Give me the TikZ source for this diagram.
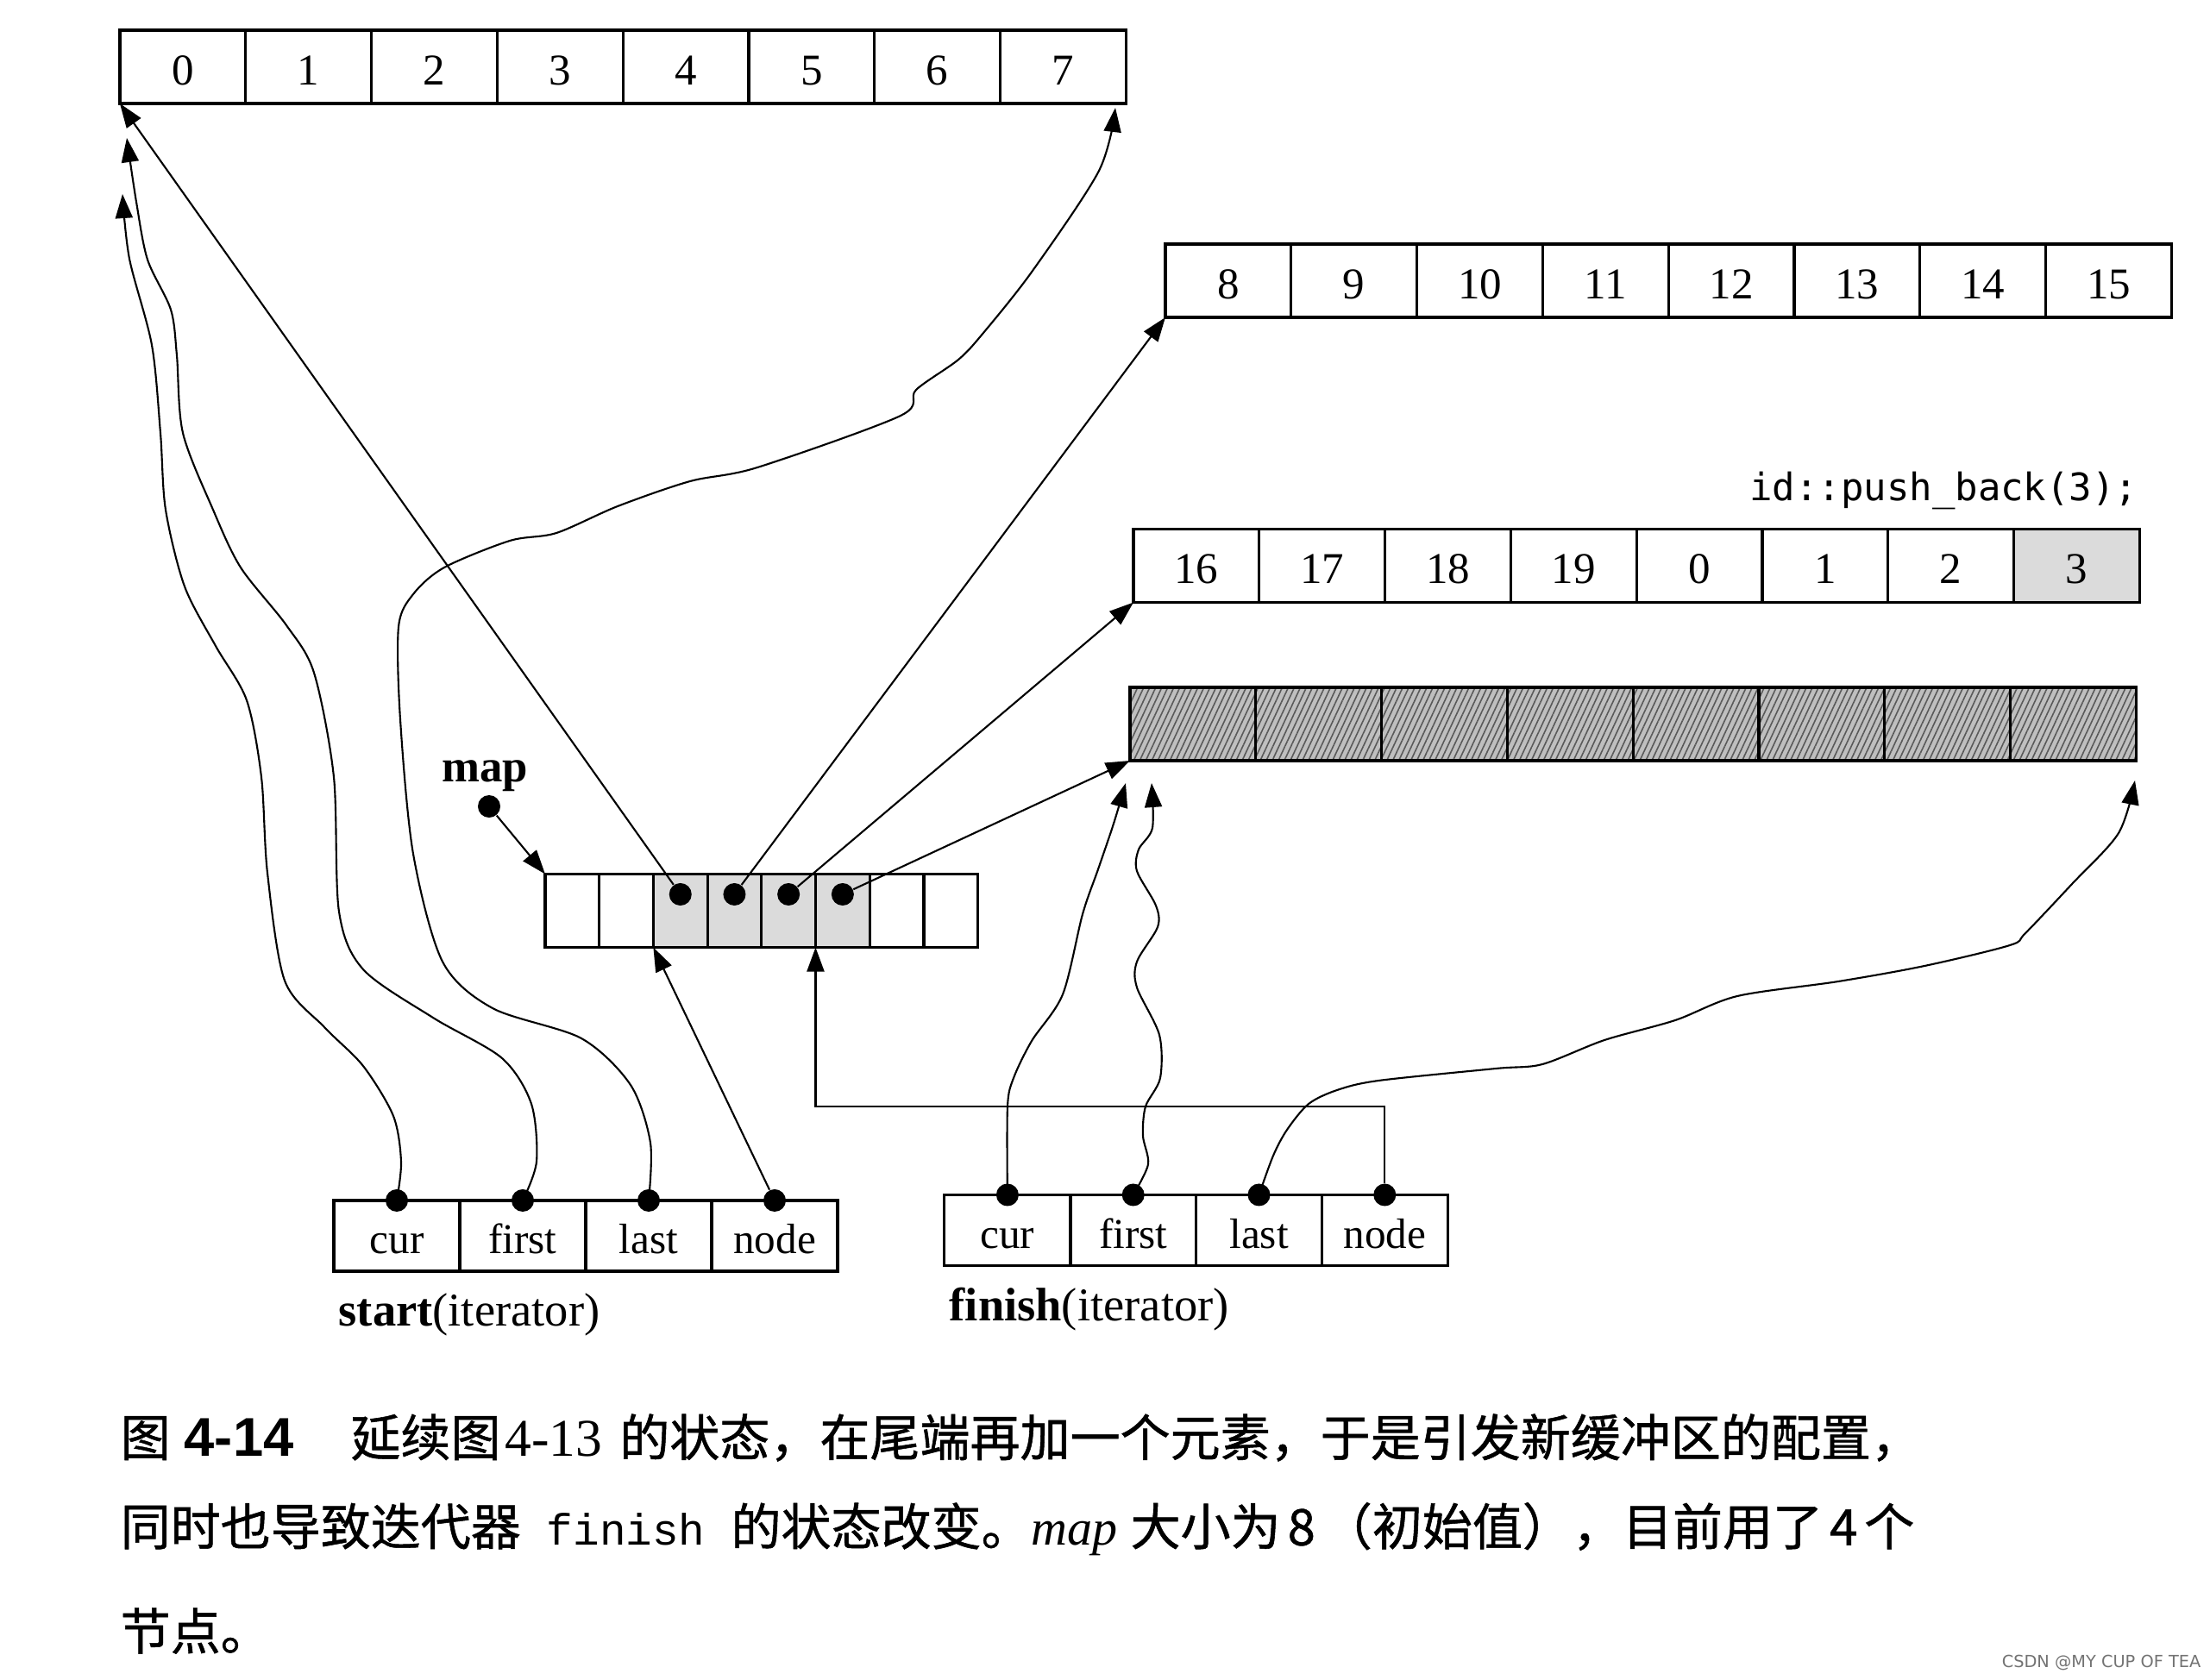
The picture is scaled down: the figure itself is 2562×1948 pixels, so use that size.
\documentclass[tikz,border=0pt]{standalone}
\usepackage{fontspec}
\setmainfont{Liberation Serif}
\newfontfamily\cjk{Noto Sans CJK SC}[FakeBold=0.9]
\newfontfamily\codefont{DejaVu Sans Mono}
\newfontfamily\typefont{Liberation Mono}
\newfontfamily\heavyfont{Liberation Sans}
\newfontfamily\markfont{DejaVu Sans}
\usetikzlibrary{arrows.meta,patterns.meta}

\tikzset{
  cell/.style={draw, line width=0.9pt, inner sep=0pt, outer sep=0pt,
    minimum width=1.458cm, minimum height=0.85cm, text height=14.8pt, text depth=3pt,
    font=\fontsize{14.5}{16}\selectfont},
  mapcell/.style={cell, minimum width=0.627cm},
  itcell/.style={cell, minimum width=1.46cm, minimum height=0.82cm, font=\fontsize{14}{16}\selectfont},
  shadecell/.style={fill=black!14},
  hatchcell/.style={preaction={fill=black!25},
    pattern={Lines[angle=65,distance=1.8pt,line width=0.45pt]}, pattern color=black!65},
  dot/.style={circle, fill=black, inner sep=0pt, minimum size=0.26cm},
  ptr/.style={line width=0.6pt, -{Triangle[length=2.8mm,width=2mm]}},
  capline/.style={anchor=west, inner sep=0pt, font=\cjk\fontsize{16.5}{18}\selectfont}
}

\begin{document}
\begin{tikzpicture}[x=0.01cm, y=-0.01cm]
\useasboundingbox (0,0) rectangle (2562,1948);

% Buffers:
\foreach \v [count=\i from 0] in {0,...,7}
  \node[cell] (a\i) at ({139+72.9+145.8*\i},77.5) {\v};
\foreach \v [count=\i from 0] in {8,...,15}
  \node[cell] (b\i) at ({1351+72.9+145.8*\i},325.5) {\v};
\foreach \v [count=\i from 0] in {16,17,18,19,0,1,2}
  \node[cell] (c\i) at ({1314+72.9+145.8*\i},656) {\v};
\node[cell, shadecell] (c7) at ({1314+72.9+145.8*7},656) {3};
\foreach \i in {0,...,7}
  \node[cell, hatchcell] (d\i) at ({1310+72.9+145.8*\i},839.5) {};
\node[anchor=east, inner sep=0pt, font=\codefont\fontsize{12.5}{14}\selectfont] (code) at (2479,569) {id::push\_back(3);};

% Map:
\foreach \i in {0,1,6,7}
  \node[mapcell] (m\i) at ({632+31.35+62.7*\i},1056) {};
\foreach \i in {2,...,5} {
  \node[mapcell, shadecell] (m\i) at ({632+31.35+62.7*\i},1056) {};
  \node[dot] (md\i) at ([yshift=0.19cm]m\i.center) {};
}
\node[font=\bfseries\fontsize{15}{17}\selectfont] (maplabel) at (562,900) {map};
\node[dot] (mapdot) at (567,935) {};
\draw[ptr] (mapdot) -- (m0.north west);

% Iterators:
\foreach \f [count=\i from 0] in {cur,first,last,node} {
  \node[itcell] (s\i) at ({387+73+146*\i},1433) {\f};
  \node[dot] (sd\i) at (s\i.north) {};
  \node[itcell] (f\i) at ({1095+72.9+145.8*\i},1426.5) {\f};
  \node[dot] (fd\i) at (f\i.north) {};
}
\node[anchor=west, inner sep=0pt, font=\fontsize{15.5}{17}\selectfont] (slabel) at (392,1524) {\textbf{start}(iterator)};
\node[anchor=west, inner sep=0pt, font=\fontsize{15.5}{17}\selectfont] (flabel) at (1100,1518) {\textbf{finish}(iterator)};

% Map to buffers:
\draw[ptr] (md2) -- (a0.south west);
\draw[ptr] (md3) -- (b0.south west);
\draw[ptr] (md4) -- (c0.south west);
\draw[ptr] (md5) -- (d0.south west);

% start pointers:
\coordinate (acur) at (142,225);
\coordinate (afirst) at (147,160);
\coordinate (alast) at (1293,125);
\draw[ptr] plot[smooth, tension=0.5] coordinates {(sd0) (465,1347) (456,1294) (421,1236) (376,1191) (330,1137) (310,1012) (303,901) (286,812) (250,749) (214,680) (192,591) (186,502) (176,400) (150,300) (acur)};
\draw[ptr] plot[smooth, tension=0.5] coordinates {(sd1) (622,1347) (616,1280) (582,1227) (502,1180) (421,1124) (393,1057) (387,901) (364,780) (332,725) (279,658) (247,591) (212,502) (205,412) (198,359) (171,301) (158,234) (afirst)};
\draw[ptr] plot[smooth, tension=0.5] coordinates {(sd2) (754,1325) (731,1258) (674,1204) (571,1169) (513,1115) (479,990) (464,834) (462,727) (479,689) (515,658) (591,627) (645,618) (716,587) (800,558) (878,542) (1044,482) (1062,452) (1111,417) (1140,386) (1197,314) (1274,198) (alast)};
\draw[ptr] (sd3) -- (m2.south west);

% finish pointers:
\coordinate (dcur) at (1305,908);
\coordinate (dfirst) at (1335,908);
\coordinate (dlast) at (2475,905);
\coordinate (fnturn) at (m5.south west |- 0,1283);
\draw[ptr] plot[smooth, tension=0.5] coordinates {(fd0) (1168,1283) (1175,1250) (1196,1207) (1232,1153) (1255,1060) (1273,1008) (1291,955) (dcur)};
\draw[ptr] plot[smooth, tension=0.5] coordinates {(fd1) (1331,1350) (1325,1317) (1328,1283) (1345,1250) (1344,1200) (1318,1145) (1318,1115) (1342,1075) (1340,1050) (1318,1010) (1320,985) (1336,960) (dfirst)};
\draw[ptr] plot[smooth, tension=0.5] coordinates {(fd2) (1476,1340) (1492,1310) (1517,1280) (1550,1264) (1598,1253) (1734,1239) (1788,1234) (1860,1206) (1942,1183) (2014,1155) (2131,1138) (2231,1120) (2330,1096) (2348,1082) (2402,1025) (2456,966) (dlast)};
\draw[ptr] (fd3) |- (fnturn) -- (m5.south west);

% Caption:
\node[capline] (cap1) at (139,1667) {图\hspace{0.16cm}{\heavyfont\bfseries\fontsize{18}{20}\selectfont 4-14}\hspace{0.66cm}延续图\hspace{0.05cm}{\rmfamily\fontsize{17.5}{19}\selectfont 4-13}\hspace{0.2cm}的状态，在尾端再加一个元素，于是引发新缓冲区的配置，};
\node[capline] (cap2) at (139,1773) {同时也导致迭代器\hspace{0.3cm}{\typefont\fontsize{14.5}{16}\selectfont finish}\hspace{0.3cm}的状态改变。{\rmfamily\itshape map}\hspace{0.15cm}大小为\hspace{0.08cm}8\hspace{0.08cm}（初始值），目前用了\hspace{0.08cm}4\hspace{0.08cm}个};
\node[capline] (cap3) at (139,1891) {节点。};
\node[anchor=east, inner sep=0pt, text=black!55, font=\markfont\fontsize{5.5}{6}\selectfont] (mark) at (2552,1928) {CSDN @MY CUP OF TEA};
\end{tikzpicture}
\end{document}
